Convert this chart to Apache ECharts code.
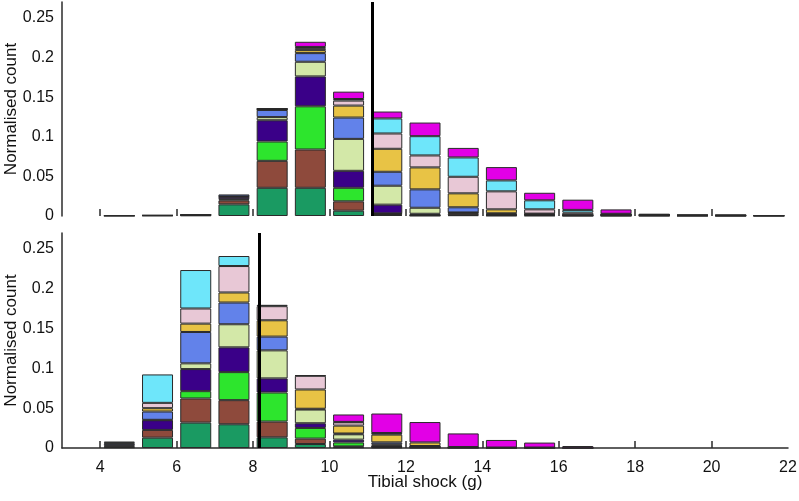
<!DOCTYPE html>
<html>
<head>
<meta charset="utf-8">
<script src="https://cdn.jsdelivr.net/npm/echarts@6/dist/echarts.min.js"></script>
<style>
html,body{margin:0;padding:0;background:#fff;}
#chart{width:799px;height:501px;}
</style>
</head>
<body>
<div id="chart"></div>
<script>
// Bin centres (g), bins of width 1 from 4 to 22
const binCentres = [4.5,5.5,6.5,7.5,8.5,9.5,10.5,11.5,12.5,13.5,14.5,15.5,16.5,17.5,18.5,19.5,20.5,21.5];
const xTickValues = [4,6,8,10,12,14,16,18,20];
const xLabelValues = [4,6,8,10,12,14,16,18,20,22];
const yLabelValues = [0,0.05,0.1,0.15,0.2,0.25];
const seriesColors = ['#1a9a62','#8e4a3c','#2de52d','#3a0088','#d3e8a8','#6282ea','#e8c345','#e8c8d6','#6ee6fa','#e200e6'];
const topMarker = 11.13;
const bottomMarker = 8.17;

// Top panel, stacked layers bottom -> top
const top1 = [0.0003,0.0005,0.0008,0.0147,0.0356,0.0356,0.0067,0.0013,0.0005,0.001,0.0005,0.0005,0.0003,0.0003,0.0003,0,0,0];
const top2 = [0,0.0003,0.0004,0.005,0.034,0.0483,0.0118,0.0015,0.0005,0.002,0.0005,0.001,0.0003,0.0003,0.0003,0.0002,0.0002,0];
const top3 = [0,0,0.0002,0.0015,0.0244,0.0545,0.0171,0.0005,0.0003,0,0,0,0,0,0,0,0,0];
const top4 = [0,0.0002,0.0002,0.003,0.0268,0.0377,0.0214,0.011,0.0015,0.001,0.001,0.0005,0.0005,0.0005,0.0004,0.0003,0.0002,0];
const top5 = [0,0,0,0.0005,0.004,0.0185,0.0403,0.0239,0.0076,0.0005,0.0003,0,0,0,0,0,0,0];
const top6 = [0,0,0,0.0025,0.009,0.0109,0.0269,0.0176,0.0232,0.0065,0.0011,0.0005,0.0003,0.0005,0.0002,0.0002,0.0002,0];
const top7 = [0,0,0,0,0.0005,0.0038,0.0151,0.029,0.0277,0.0176,0.005,0.0005,0.0003,0.0002,0,0,0,0];
const top8 = [0.0002,0,0,0,0.0005,0.0025,0.0063,0.0193,0.0151,0.0209,0.0227,0.0054,0.0025,0.0005,0.0002,0.0002,0.0002,0.0002];
const top9 = [0,0,0,0,0.0005,0.0015,0.002,0.019,0.0243,0.0244,0.0138,0.0114,0.0035,0.0005,0.0002,0.0002,0.0002,0.0002];
const top10 = [0,0,0,0,0.0005,0.0065,0.0093,0.0087,0.0172,0.012,0.0168,0.0095,0.0129,0.0055,0.001,0.0003,0.0003,0.0001];

// Bottom panel, stacked layers bottom -> top
const bot1 = [0.001,0.013,0.0319,0.0298,0.0134,0.005,0.001,0.0008,0.0005,0.0003,0.0002,0.0002,0.0001,0,0,0,0,0];
const bot2 = [0.001,0.0097,0.0303,0.0303,0.0198,0.0068,0.001,0.0008,0.0005,0.0003,0.0002,0.0002,0.0001,0,0,0,0,0];
const bot3 = [0,0,0.0092,0.0352,0.0365,0.0134,0.005,0.0005,0,0,0,0,0,0,0,0,0,0];
const bot4 = [0.0015,0.0122,0.0277,0.0311,0.0177,0.0059,0.0035,0.001,0.0005,0.0004,0.0002,0.0002,0,0,0,0,0,0];
const bot5 = [0,0.0005,0.0072,0.029,0.0352,0.0172,0.0067,0.0015,0.0005,0,0,0,0,0,0,0,0,0];
const bot6 = [0.002,0.0104,0.0394,0.0273,0.0173,0.001,0.001,0.0025,0.0005,0,0,0,0,0,0,0,0,0];
const bot7 = [0.001,0.0042,0.0105,0.0126,0.0205,0.0242,0.0099,0.0097,0.0045,0.0002,0,0,0,0,0,0,0,0];
const bot8 = [0,0.0067,0.019,0.0332,0.0177,0.0172,0.0042,0.0015,0,0,0,0,0,0,0,0,0,0];
const bot9 = [0.0015,0.0357,0.0483,0.0126,0.0017,0.0005,0.0005,0.0005,0,0,0,0,0,0,0,0,0,0];
const bot10 = [0,0,0,0,0,0,0.0093,0.0245,0.0256,0.0171,0.0095,0.0062,0.0023,0,0,0,0,0];

const topLayers = [top1,top2,top3,top4,top5,top6,top7,top8,top9,top10];
const botLayers = [bot1,bot2,bot3,bot4,bot5,bot6,bot7,bot8,bot9,bot10];

const FONT = '"Liberation Sans", Arial, Helvetica, sans-serif';
const AX = '#2b2b2b';

function makeSeries(layers, idx, stackName, marker) {
  return layers.map((arr, i) => {
    const s = {
      type: 'bar',
      xAxisIndex: idx,
      yAxisIndex: idx,
      stack: stackName,
      barWidth: 31,
      itemStyle: { color: seriesColors[i], borderColor: '#2a2a2a', borderWidth: 1 },
      // value first so that the value dimension is the stacked one
      dimensions: ['v', 'g'],
      encode: { x: 1, y: 0 },
      data: binCentres.map((c, j) => [arr[j] > 0 ? arr[j] : null, c]),
      silent: true
    };
    if (i === layers.length - 1) {
      s.markLine = {
        silent: true,
        symbol: ['none','none'],
        label: { show: false },
        lineStyle: { color: '#000', width: 3, type: 'solid' },
        data: [{ xAxis: marker }]
      };
    }
    return s;
  });
}

function xAxisCfg(idx, showLine, showLabels) {
  return {
    type: 'value', gridIndex: idx, min: 3, max: 22,
    axisLine: { show: showLine, lineStyle: { color: AX, width: 1.5 } },
    axisTick: { show: true, inside: true, length: 7, customValues: xTickValues, lineStyle: { color: AX, width: 1.5 } },
    axisLabel: { show: showLabels, customValues: xLabelValues, color: '#111', fontSize: 16, fontFamily: FONT, margin: 12 },
    splitLine: { show: false },
    name: showLabels ? 'Tibial shock (g)' : '',
    nameLocation: 'middle', nameGap: 26, nameMoveOverlap: false,
    nameTextStyle: { color: '#111', fontSize: 17, fontFamily: FONT }
  };
}
function yAxisCfg(idx) {
  return {
    type: 'value', gridIndex: idx, min: 0, max: 0.27,
    axisLine: { show: true, lineStyle: { color: AX, width: 1.5 } },
    axisTick: { show: false },
    axisLabel: { customValues: yLabelValues, color: '#111', fontSize: 16, fontFamily: FONT, margin: 8 },
    splitLine: { show: false },
    name: 'Normalised count', nameLocation: 'middle', nameGap: 42, nameMoveOverlap: false,
    nameTextStyle: { color: '#111', fontSize: 17, fontFamily: FONT }
  };
}

const chart = echarts.init(document.getElementById('chart'), null, { renderer: 'canvas' });
chart.setOption({
  animation: false,
  backgroundColor: '#fff',
  grid: [
    { left: 62, right: 11, top: 2, height: 214, outerBoundsMode: 'none', containLabel: false },
    { left: 62, right: 11, top: 233, height: 215, outerBoundsMode: 'none', containLabel: false }
  ],
  xAxis: [xAxisCfg(0, false, false), xAxisCfg(1, true, true)],
  yAxis: [yAxisCfg(0), yAxisCfg(1)],
  series: [].concat(makeSeries(topLayers, 0, 'top', topMarker), makeSeries(botLayers, 1, 'bot', bottomMarker))
});
</script>
</body>
</html>
